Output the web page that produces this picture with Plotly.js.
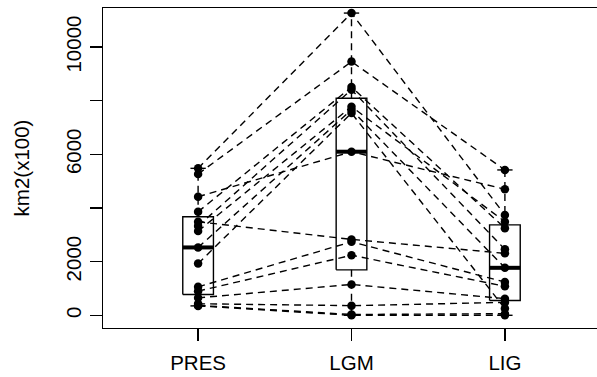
<!DOCTYPE html>
<html>
<head>
<meta charset="utf-8">
<script src="https://cdn.plot.ly/plotly-3.0.1.min.js"></script>
<style>
html,body{margin:0;padding:0;overflow:hidden;background:#fff;}
#chart{width:600px;height:377px;}
</style>
</head>
<body>
<div id="chart"></div>
<script>
// Categories and tick labels
var categories = ["PRES", "LGM", "LIG"];
var yTickValues = [0, 2000, 4000, 6000, 8000, 10000];
var yTickLabels = ["0", "2000", "", "6000", "", "10000"];

// Range area (km2 x100) per site, one entry per site in each period
var presValues = [5480, 5270, 4420, 3860, 3330, 3140, 2530, 1930, 3490, 1060, 900, 650, 430, 370, 350];
var lgmValues  = [11270, 9460, 6100, 8510, 8410, 7780, 7660, 7540, 2830, 2740, 2240, 1150, 360, 30, 0];
var ligValues  = [3740, 5420, 4700, 3250, 2460, 3490, 1770, 250, 2310, 1240, 1080, 620, 480, 60, 0];

var periods = [presValues, lgmValues, ligValues];

// Tukey five-number summary (as R's boxplot)
function fivenum(arr) {
  var x = arr.slice().sort(function(a,b){return a-b;});
  var n = x.length;
  var n4 = Math.floor((n + 3) / 2) / 2;
  var d = [1, n4, (n + 1) / 2, n + 1 - n4, n];
  return d.map(function(v){
    return 0.5 * (x[Math.floor(v) - 1] + x[Math.ceil(v) - 1]);
  });
}

var traces = [];
var boxHalf = 0.1, stapleHalf = 0.05;
var dashStyle = "7px,5px";

periods.forEach(function(vals, i) {
  var xc = i + 1;
  var f = fivenum(vals);
  var q1 = f[1], med = f[2], q3 = f[3];
  var iqr = q3 - q1;
  var inUp = vals.filter(function(v){return v <= q3 + 1.5 * iqr;});
  var inLo = vals.filter(function(v){return v >= q1 - 1.5 * iqr;});
  var hi = Math.max.apply(null, inUp);
  var lo = Math.min.apply(null, inLo);
  // box outline
  traces.push({type:"scatter", mode:"lines", hoverinfo:"skip", showlegend:false,
    x:[xc-boxHalf, xc+boxHalf, xc+boxHalf, xc-boxHalf, xc-boxHalf],
    y:[q1, q1, q3, q3, q1],
    line:{color:"#000", width:1.4}});
  // whiskers (dashed)
  traces.push({type:"scatter", mode:"lines", hoverinfo:"skip", showlegend:false,
    x:[xc, xc, null, xc, xc], y:[q3, hi, null, q1, lo],
    line:{color:"#000", width:1.4, dash:dashStyle}});
  // staples
  traces.push({type:"scatter", mode:"lines", hoverinfo:"skip", showlegend:false,
    x:[xc-stapleHalf, xc+stapleHalf, null, xc-stapleHalf, xc+stapleHalf],
    y:[hi, hi, null, lo, lo],
    line:{color:"#000", width:1.4}});
  // median
  traces.push({type:"scatter", mode:"lines", hoverinfo:"skip", showlegend:false,
    x:[xc-boxHalf, xc+boxHalf], y:[med, med],
    line:{color:"#000", width:4}});
});

// one dashed line + points per site
for (var s = 0; s < presValues.length; s++) {
  traces.push({type:"scatter", mode:"lines+markers", showlegend:false,
    x:[1, 2, 3], y:[presValues[s], lgmValues[s], ligValues[s]],
    line:{color:"#000", width:1.4, dash:dashStyle},
    marker:{color:"#000", size:8.5}});
}

var font = "Liberation Sans, Arial, Helvetica, sans-serif";
var layout = {
  width:600, height:377,
  margin:{l:103, r:0, t:8, b:49},
  paper_bgcolor:"#fff", plot_bgcolor:"#fff",
  font:{family:font, size:20.5, color:"#000"},
  showlegend:false,
  xaxis:{
    range:[0.38, 3.62], tickmode:"array", tickvals:[1,2,3], ticktext:categories,
    showgrid:false, zeroline:false, showline:true, mirror:true,
    linecolor:"#000", linewidth:1.4,
    ticks:"outside", ticklen:12, tickwidth:1.4, tickcolor:"#000",
    ticklabelstandoff:4,
    tickfont:{family:font, size:20.5, color:"#000"}
  },
  yaxis:{
    range:[-474, 11459], tickmode:"array", tickvals:yTickValues, ticktext:yTickLabels,
    tickangle:-90,
    showgrid:false, zeroline:false, showline:true, mirror:true,
    linecolor:"#000", linewidth:1.4,
    ticks:"outside", ticklen:12, tickwidth:1.4, tickcolor:"#000",
    tickfont:{family:font, size:20.5, color:"#000"},
    title:{text:"km2(x100)", font:{family:font, size:20.5, color:"#000"}, standoff:27}
  }
};

Plotly.newPlot("chart", traces, layout, {staticPlot:true, displayModeBar:false});
</script>
</body>
</html>
